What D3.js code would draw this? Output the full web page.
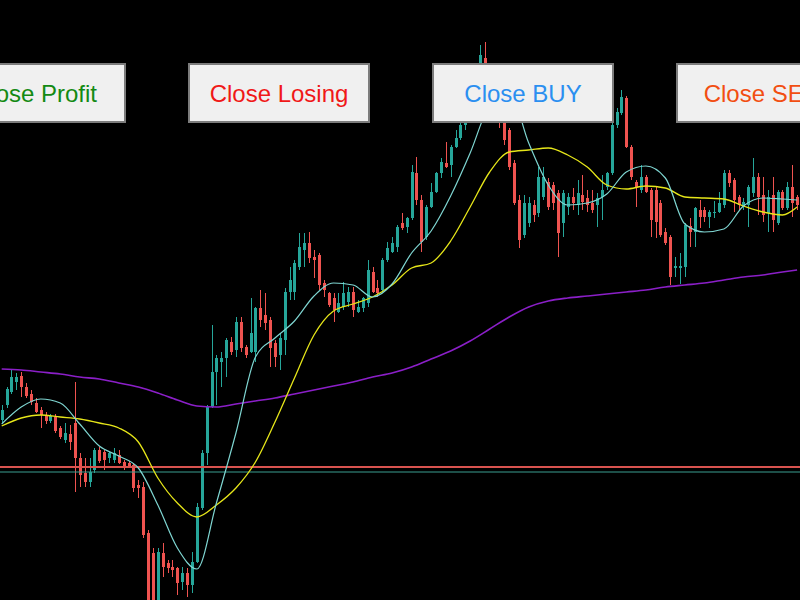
<!DOCTYPE html>
<html>
<head>
<meta charset="utf-8">
<script src="https://cdn.jsdelivr.net/npm/d3@7"></script>
<style>
  html, body { margin: 0; padding: 0; background: #000; }
  svg { display: block; }
</style>
</head>
<body>
<svg id="chart" width="800" height="600"></svg>
<script>
// ── Candles (price in points) ──
const candleOpen = [
  180,195,208,218,224,213,206,197,190,185,
  179,183,172,160,166,177,142,127,118,130,
  150,148,142,140,145,138,137,135,115,113,
  67,47,-12,47,37,33,32,18,27,15,
  38,92,147,193,228,238,242,258,250,278,
  253,248,248,292,285,280,257,245,260,308,
  308,333,350,357,343,345,317,307,302,288,
  293,298,308,288,292,297,328,312,310,340,
  348,353,377,373,382,427,400,363,393,408,
  427,437,435,453,462,475,492,508,528,542,
  525,515,500,477,470,437,400,365,377,395,
  387,403,418,415,407,377,393,403,395,405,
  402,397,395,403,413,427,475,487,502,453,
  418,410,423,410,410,397,368,363,332,332,
  333,374,368,390,390,383,387,388,395,427,
  420,403,393,395,407,423,405,387,405,377,
  408,392,413,403
];
const candleHigh = [
  195,213,230,227,228,217,210,202,193,188,
  186,186,174,177,175,218,147,142,142,152,
  153,150,148,152,150,140,139,137,120,118,
  70,52,52,57,40,40,33,33,32,48,
  97,150,195,275,245,248,262,263,283,283,
  255,302,293,310,307,283,260,267,312,333,
  340,367,367,368,350,347,320,308,307,307,
  318,313,313,300,303,340,333,320,342,358,
  363,375,387,383,435,443,405,395,417,428,
  442,458,455,470,480,495,515,532,555,558,
  530,520,505,482,472,440,405,405,403,400,
  433,433,422,418,410,410,407,412,420,425,
  410,410,407,425,428,487,492,510,504,455,
  420,435,425,412,413,400,372,365,343,347,
  377,382,393,400,393,390,399,408,430,430,
  422,405,402,415,442,427,423,410,423,410,
  410,418,435,405
];
const candleLow = [
  177,192,206,210,203,202,195,187,172,176,
  177,167,161,157,150,108,113,113,113,127,
  137,130,137,137,136,130,132,108,102,62,
  -20,-25,-25,23,27,23,5,10,3,7,
  37,90,135,192,195,213,223,245,243,248,
  242,247,238,273,270,233,233,230,245,300,
  300,330,333,337,322,310,303,293,278,287,
  290,293,283,287,288,293,307,303,308,338,
  347,348,370,367,380,395,348,360,392,407,
  422,432,423,452,460,470,488,505,525,520,
  505,495,472,455,430,395,352,362,373,378,
  383,400,390,390,343,363,385,390,385,390,
  388,387,373,380,410,425,472,485,452,420,
  393,407,407,363,362,363,355,315,323,316,
  323,353,353,372,378,372,382,387,392,413,
  388,390,390,373,403,385,378,368,368,375,
  390,390,383,390
];
const candleClose = [
  190,211,223,223,213,204,198,188,185,179,
  184,169,163,167,158,142,125,118,128,150,
  139,140,147,147,137,132,134,112,112,65,
  -12,-15,48,33,32,30,17,27,15,38,
  93,147,193,228,242,242,260,248,278,252,
  245,267,292,280,277,252,243,262,308,320,
  337,353,357,342,340,315,310,295,290,297,
  307,308,290,293,302,330,308,307,340,352,
  357,373,372,382,428,400,358,393,408,427,
  438,433,453,462,475,492,510,528,545,525,
  512,500,478,460,433,397,360,397,397,385,
  423,423,393,397,367,407,403,397,407,398,
  395,390,402,410,427,475,488,503,453,423,
  413,423,408,380,378,365,357,323,334,334,
  375,368,392,383,383,388,388,397,427,417,
  400,395,398,413,423,403,385,403,380,408,
  392,413,397,395
];

// ── Moving averages, read at every 4th candle ──
const maIndex = [0,4,8,12,16,20,24,28,32,36,40,44,48,52,56,60,64,68,72,76,80,
  84,88,92,96,100,104,108,112,116,120,124,128,132,136,140,144,148,152,156,160,163];
const maFast = [176,193,201,197,176,154,144,132,95,52,31,97,167,243,262,279,304,317,315,303,316,
  347,369,404,447,495,508,457,415,395,397,406,428,434,422,376,368,371,394,402,401,400];
const maSlow = [174,182,185,183,181,177,172,158,122,97,83,95,112,138,178,222,265,289,296,303,315,
  332,337,359,393,428,448,450,452,445,433,415,411,414,412,403,402,401,394,388,385,393];
const maLong = [231,230,228,226,223,221,217,213,207,200,194,193,196,199,202,206,210,214,218,223,227,
  233,241,249,259,271,283,293,299,302,304,306,308,310,313,315,317,320,323,325,328,330];

// ── Order levels ──
const levelSell = 133;
const levelBuy = 128;

// ── Buttons ──
const buttonLabels = ['Close Profit', 'Close Losing', 'Close BUY', 'Close SELL'];
const buttonColors = ['#138a13', '#f01818', '#2b8ff0', '#f24e12'];

const W = 800, H = 600;
const svg = d3.select('#chart');

svg.append('rect').attr('width', W).attr('height', H).attr('fill', '#000');

const x = d3.scaleLinear().domain([0, candleOpen.length - 1]).range([1.7, 797.1]);
const y = d3.scaleLinear().domain([0, 600]).range([H, 0]);

const up = '#26a69a', down = '#ef5350';
const candles = d3.range(candleOpen.length).map(i => ({
  i, o: candleOpen[i], h: candleHigh[i], l: candleLow[i], c: candleClose[i]
}));

const plot = svg.append('g');

// wicks
plot.append('g').selectAll('line').data(candles).join('line')
  .attr('x1', d => Math.round(x(d.i)) + 0.5).attr('x2', d => Math.round(x(d.i)) + 0.5)
  .attr('y1', d => y(d.h)).attr('y2', d => y(d.l))
  .attr('stroke', d => d.c >= d.o ? up : down).attr('stroke-width', 1);

// bodies
plot.append('g').selectAll('rect').data(candles).join('rect')
  .attr('x', d => Math.round(x(d.i)) - 1)
  .attr('width', 3)
  .attr('y', d => y(Math.max(d.o, d.c)))
  .attr('height', d => Math.max(1, Math.abs(y(d.o) - y(d.c))))
  .attr('fill', d => d.c >= d.o ? up : down);

// order levels
plot.append('line')
  .attr('x1', 0).attr('x2', W).attr('y1', y(levelSell)).attr('y2', y(levelSell))
  .attr('stroke', '#d9534f').attr('stroke-width', 2);
plot.append('line')
  .attr('x1', 0).attr('x2', W).attr('y1', y(levelBuy)).attr('y2', y(levelBuy))
  .attr('stroke', '#3a9e8f').attr('stroke-width', 1.2);

// moving averages
const maLine = d3.line()
  .x((d, k) => x(maIndex[k]))
  .y(d => y(d))
  .curve(d3.curveMonotoneX);

plot.append('path').datum(maLong).attr('d', maLine)
  .attr('fill', 'none').attr('stroke', '#8b1fc8').attr('stroke-width', 1.6);
plot.append('path').datum(maSlow).attr('d', maLine)
  .attr('fill', 'none').attr('stroke', '#e6e619').attr('stroke-width', 1.3);
plot.append('path').datum(maFast).attr('d', maLine)
  .attr('fill', 'none').attr('stroke', '#7fd6d2').attr('stroke-width', 1.2);

// buttons
const btn = svg.append('g').selectAll('g').data(buttonLabels).join('g')
  .attr('transform', (d, k) => 'translate(' + (-56 + 244 * k) + ',63)');

btn.append('rect')
  .attr('x', 1).attr('y', 1).attr('width', 180).attr('height', 58)
  .attr('fill', '#f0f0f0').attr('stroke', '#7c7c7c').attr('stroke-width', 2);

btn.append('text')
  .attr('x', 91).attr('y', 39)
  .attr('text-anchor', 'middle')
  .attr('font-family', '"Liberation Sans", Arial, sans-serif')
  .attr('font-size', '24px')
  .attr('fill', (d, k) => buttonColors[k])
  .text(d => d);
</script>
</body>
</html>
